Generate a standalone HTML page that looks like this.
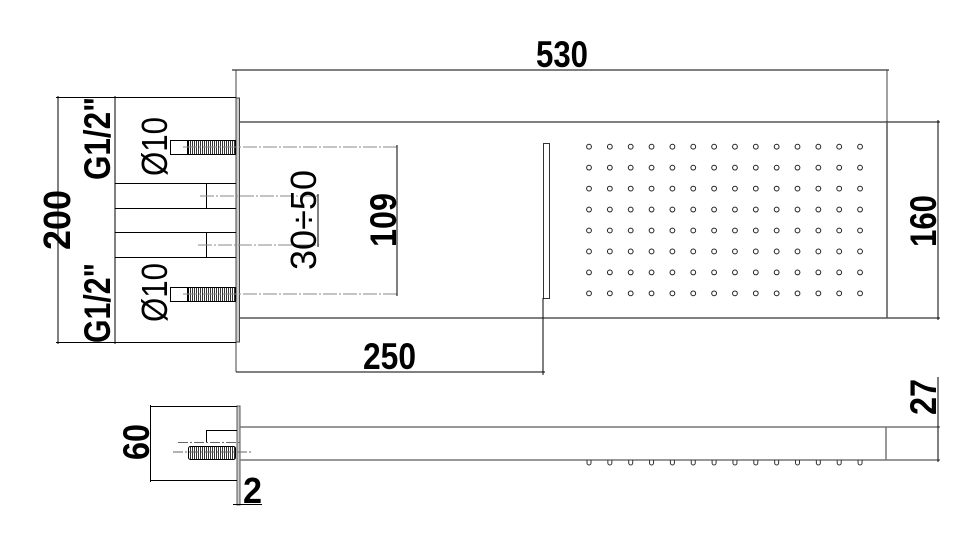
<!DOCTYPE html>
<html><head><meta charset="utf-8"><style>
html,body{margin:0;padding:0;background:#fff;}
svg{display:block;}
text{font-family:"Liberation Sans",sans-serif;fill:#000;}
.b{font-weight:bold;}
</style></head><body>
<svg width="978" height="534" viewBox="0 0 978 534" xmlns="http://www.w3.org/2000/svg">
<defs>
<pattern id="th" width="2" height="4" patternUnits="userSpaceOnUse"><rect width="1" height="4" fill="#333"/></pattern>
</defs>
<g stroke="#000" stroke-width="1" fill="none">
<line x1="232" y1="70" x2="889" y2="70"/>
<line x1="236" y1="70" x2="236" y2="372" stroke="#444"/>
<line x1="887" y1="70" x2="887" y2="122" stroke="#444"/>
<line x1="239" y1="122" x2="940" y2="122"/>
<line x1="239" y1="318" x2="940" y2="318"/>
<line x1="887" y1="122" x2="887" y2="318" stroke="#555" stroke-width="1.5"/>
<line x1="938" y1="120" x2="938" y2="320"/>
<rect x="543.5" y="143.5" width="6" height="155" stroke="#333"/>
<line x1="543" y1="298" x2="543" y2="375"/>
<line x1="236" y1="372" x2="545" y2="372"/>
<rect x="236" y="98" width="3.5" height="244" fill="#ccc" stroke="#444"/>
<line x1="56" y1="97.5" x2="236" y2="97.5"/>
<line x1="56" y1="342.5" x2="236" y2="342.5"/>
<line x1="58" y1="96" x2="58" y2="344"/>
<line x1="115" y1="96" x2="115" y2="344"/>
<rect x="170.5" y="140.5" width="17" height="14"/>
<rect x="188.5" y="140.5" width="47" height="14" fill="url(#th)"/>
<line x1="183" y1="147" x2="398" y2="147" stroke-dasharray="14,2,2,2" stroke="#888"/>
<rect x="170.5" y="287.5" width="17" height="14"/>
<rect x="188.5" y="287.5" width="47" height="14" fill="url(#th)"/>
<line x1="183" y1="294" x2="398" y2="294" stroke-dasharray="14,2,2,2" stroke="#888"/>
<polyline points="115,183.5 236,183.5"/>
<polyline points="115,208.5 236,208.5"/>
<line x1="206.5" y1="183" x2="206.5" y2="208"/>
<line x1="200" y1="196" x2="319" y2="196" stroke-dasharray="14,2,2,2" stroke="#888"/>
<polyline points="115,232.5 236,232.5"/>
<polyline points="115,257.5 236,257.5"/>
<line x1="206.5" y1="232" x2="206.5" y2="257"/>
<line x1="198" y1="245" x2="319" y2="245" stroke-dasharray="14,2,2,2" stroke="#888"/>
<line x1="318" y1="194" x2="318" y2="247"/>
<line x1="397" y1="145" x2="397" y2="296"/>
<rect x="237" y="406" width="3" height="99" fill="#ccc" stroke="#555"/>
<line x1="150" y1="406.5" x2="237" y2="406.5"/>
<line x1="150" y1="480.5" x2="237" y2="480.5"/>
<line x1="150.5" y1="405" x2="150.5" y2="482"/>
<line x1="233" y1="504.5" x2="262" y2="504.5"/>
<line x1="240" y1="427" x2="940" y2="427" stroke="#777" stroke-width="1.5"/>
<line x1="240" y1="460" x2="940" y2="460" stroke="#777" stroke-width="1.5"/>
<line x1="886" y1="427" x2="886" y2="460" stroke="#777" stroke-width="1.5"/>
<line x1="938" y1="377" x2="938" y2="462"/>
<polyline points="206.5,443 206.5,430.5 237,430.5"/>
<line x1="178" y1="442.5" x2="240" y2="442.5" stroke-dasharray="10,2,2,2" stroke="#666"/>
<rect x="188.5" y="446.5" width="47" height="13" rx="2" fill="url(#th)"/>
<line x1="173" y1="452" x2="252" y2="452" stroke-dasharray="10,2,2,2" stroke="#666"/>
</g>
<g id="dots" fill="none" stroke="#222" stroke-width="1"></g>
<g id="nubs" fill="none" stroke="#333" stroke-width="1"></g>
<text class="b" x="536" y="67" font-size="37" textLength="52" lengthAdjust="spacingAndGlyphs">530</text>
<text class="b" x="363" y="369" font-size="37" textLength="53" lengthAdjust="spacingAndGlyphs">250</text>
<text class="b" transform="translate(70,250) rotate(-90)" font-size="38" textLength="60" lengthAdjust="spacingAndGlyphs">200</text>
<text class="b" transform="translate(110,180) rotate(-90)" font-size="37" textLength="83" lengthAdjust="spacingAndGlyphs">G1/2"</text>
<text class="b" transform="translate(110,343) rotate(-90)" font-size="37" textLength="80" lengthAdjust="spacingAndGlyphs">G1/2"</text>
<text transform="translate(167,176) rotate(-90)" font-size="36" textLength="59" lengthAdjust="spacingAndGlyphs">Ø10</text>
<text transform="translate(167,322) rotate(-90)" font-size="36" textLength="59" lengthAdjust="spacingAndGlyphs">Ø10</text>
<text transform="translate(316,270) rotate(-90)" font-size="36" textLength="100" lengthAdjust="spacingAndGlyphs">30÷50</text>
<text class="b" transform="translate(396,247) rotate(-90)" font-size="37" textLength="54" lengthAdjust="spacingAndGlyphs">109</text>
<text class="b" transform="translate(936,247) rotate(-90)" font-size="37" textLength="52" lengthAdjust="spacingAndGlyphs">160</text>
<text class="b" transform="translate(149,460) rotate(-90)" font-size="37" textLength="36" lengthAdjust="spacingAndGlyphs">60</text>
<text class="b" transform="translate(936,415) rotate(-90)" font-size="37" textLength="36" lengthAdjust="spacingAndGlyphs">27</text>
<text class="b" x="243" y="503" font-size="36" textLength="19" lengthAdjust="spacingAndGlyphs">2</text>
</svg>
<script>
(function(){
var ns="http://www.w3.org/2000/svg";
var d=document.getElementById("dots"),n=document.getElementById("nubs");
for(var c=0;c<14;c++){var x=589+c*20.85;
 for(var r=0;r<8;r++){var e=document.createElementNS(ns,"circle");e.setAttribute("cx",x);e.setAttribute("cy",146.7+r*20.95);e.setAttribute("r",2.4);d.appendChild(e);}
 var p=document.createElementNS(ns,"path");p.setAttribute("d","M"+(x-2)+" 460 L"+(x-2)+" 463 A2 2 0 0 0 "+(x+2)+" 463 L"+(x+2)+" 460");n.appendChild(p);}
})();
</script>
</body></html>
